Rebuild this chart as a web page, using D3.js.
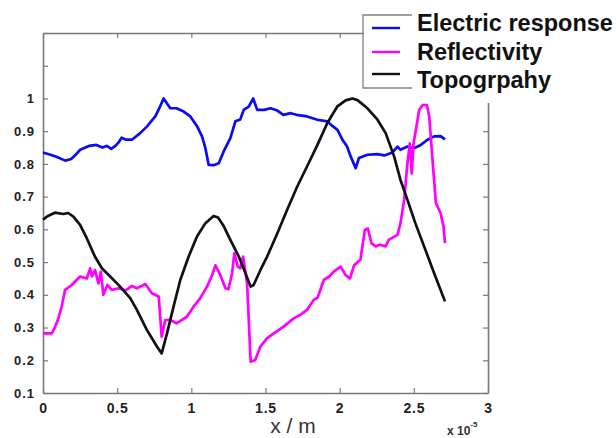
<!DOCTYPE html>
<html>
<head>
<meta charset="utf-8">
<script src="https://cdn.jsdelivr.net/npm/d3@7"></script>
<style>
  html, body { margin: 0; padding: 0; background: #fff; }
  svg { display: block; }
</style>
</head>
<body>
<svg id="chart" width="616" height="438"></svg>
<script>
// Series, x in units of 1e-5 m, normalised amplitude
const electricResponse = [
  [0.00,0.835],[0.05,0.828],[0.09,0.822],[0.15,0.810],[0.19,0.815],[0.22,0.828],[0.25,0.843],
  [0.31,0.855],[0.36,0.858],[0.40,0.850],[0.43,0.855],[0.46,0.846],[0.49,0.856],[0.51,0.866],
  [0.53,0.880],[0.56,0.874],[0.60,0.874],[0.655,0.894],[0.70,0.914],[0.757,0.945],[0.79,0.976],
  [0.813,1.0],[0.858,0.97],[0.90,0.97],[0.948,0.96],[0.993,0.945],[1.04,0.914],[1.072,0.884],
  [1.095,0.848],[1.117,0.797],[1.15,0.796],[1.185,0.802],[1.218,0.838],[1.263,0.879],[1.297,0.93],
  [1.33,0.936],[1.353,0.965],[1.387,0.975],[1.417,1.0],[1.444,0.965],[1.49,0.965],[1.534,0.97],
  [1.58,0.963],[1.62,0.95],[1.67,0.955],[1.71,0.95],[1.78,0.945],[1.85,0.935],[1.917,0.93],
  [1.94,0.92],[1.985,0.904],[2.02,0.873],[2.05,0.853],[2.074,0.823],[2.108,0.787],[2.13,0.818],
  [2.187,0.828],[2.255,0.83],[2.30,0.826],[2.356,0.835],[2.39,0.853],[2.41,0.843],[2.457,0.853],
  [2.50,0.848],[2.547,0.858],[2.59,0.873],[2.637,0.884],[2.68,0.885],[2.71,0.875]
];
const reflectivity = [
  [0.00,0.282],[0.059,0.282],[0.08,0.30],[0.10,0.323],[0.126,0.364],[0.149,0.415],[0.194,0.43],
  [0.25,0.456],[0.295,0.45],[0.318,0.481],[0.33,0.456],[0.35,0.476],[0.374,0.435],[0.39,0.471],
  [0.407,0.40],[0.434,0.43],[0.464,0.415],[0.51,0.42],[0.554,0.413],[0.60,0.427],[0.633,0.42],
  [0.69,0.433],[0.734,0.405],[0.78,0.395],[0.80,0.272],[0.824,0.323],[0.858,0.323],[0.90,0.313],
  [0.97,0.333],[1.016,0.364],[1.06,0.39],[1.106,0.425],[1.14,0.46],[1.162,0.49],[1.196,0.46],
  [1.23,0.42],[1.25,0.417],[1.275,0.466],[1.29,0.527],[1.313,0.486],[1.33,0.481],[1.349,0.517],
  [1.376,0.435],[1.40,0.196],[1.43,0.20],[1.466,0.242],[1.51,0.267],[1.556,0.282],[1.62,0.302],
  [1.69,0.328],[1.736,0.339],[1.78,0.354],[1.826,0.385],[1.85,0.39],[1.894,0.446],[1.93,0.456],
  [1.96,0.471],[2.007,0.486],[2.04,0.46],[2.07,0.45],[2.097,0.49],[2.14,0.507],[2.17,0.598],
  [2.19,0.603],[2.214,0.558],[2.243,0.548],[2.27,0.553],[2.31,0.548],[2.33,0.568],[2.39,0.583],
  [2.41,0.619],[2.435,0.69],[2.457,0.802],[2.473,0.863],[2.486,0.771],[2.498,0.863],[2.51,0.894],
  [2.536,0.965],[2.559,0.98],[2.588,0.98],[2.604,0.945],[2.626,0.812],[2.649,0.68],[2.68,0.65],
  [2.70,0.61],[2.71,0.558]
];
const topography = [
  [0.00,0.63],[0.03,0.64],[0.08,0.651],[0.137,0.647],[0.17,0.65],[0.205,0.639],[0.25,0.614],
  [0.295,0.573],[0.35,0.517],[0.397,0.481],[0.453,0.456],[0.52,0.425],[0.588,0.39],[0.633,0.354],
  [0.70,0.293],[0.768,0.242],[0.80,0.221],[0.836,0.282],[0.88,0.364],[0.926,0.446],[0.982,0.517],
  [1.038,0.578],[1.095,0.619],[1.15,0.641],[1.18,0.636],[1.218,0.61],[1.263,0.568],[1.32,0.517],
  [1.365,0.466],[1.40,0.425],[1.42,0.43],[1.466,0.476],[1.511,0.517],[1.58,0.588],[1.646,0.66],
  [1.714,0.731],[1.78,0.792],[1.85,0.858],[1.917,0.925],[1.985,0.976],[2.04,0.994],[2.086,1.0],
  [2.12,0.995],[2.187,0.97],[2.255,0.935],[2.31,0.894],[2.367,0.823],[2.41,0.751],[2.457,0.69],
  [2.51,0.619],[2.57,0.547],[2.637,0.466],[2.71,0.38]
];

const seriesNames = ["Electric response", "Reflectivity", "Topogrpahy"];
const seriesColors = ["#0a0af5", "#ff00ff", "#111111"];
const xTicks = [0, 0.5, 1, 1.5, 2, 2.5, 3];
const yTicks = [0.1, 0.2, 0.3, 0.4, 0.5, 0.6, 0.7, 0.8, 0.9, 1, 1.1, 1.2];
const yLabelled = [0.1, 0.2, 0.3, 0.4, 0.5, 0.6, 0.7, 0.8, 0.9, 1];
const xLabel = "x / m";

const svg = d3.select("#chart");
const plot = { left: 43, right: 488, top: 33, bottom: 393 };

const x = d3.scaleLinear().domain([0, 3]).range([plot.left, plot.right]);
const y = d3.scaleLinear().domain([0.1, 1.2]).range([plot.bottom, plot.top]);

const axisColor = "#7a7a7a";
const tickFont = "'Liberation Sans', Arial, sans-serif";

// Box axes with inward ticks on all four sides
function styleAxis(g) {
  g.select(".domain").attr("stroke", axisColor).attr("stroke-width", 1.6);
  g.selectAll(".tick line").attr("stroke", axisColor).attr("stroke-width", 1.2);
}
const xBottom = svg.append("g").attr("transform", `translate(0,${plot.bottom})`)
  .call(d3.axisBottom(x).tickValues(xTicks).tickSizeInner(-5).tickSizeOuter(0).tickPadding(9)
    .tickFormat(d3.format("")));
styleAxis(xBottom);
xBottom.selectAll(".tick text")
  .attr("font-family", tickFont).attr("font-weight", "bold").attr("font-size", 14)
  .attr("letter-spacing", 0.8).attr("fill", "#222").attr("dy", "0.75em");

const xTop = svg.append("g").attr("transform", `translate(0,${plot.top})`)
  .call(d3.axisTop(x).tickValues(xTicks).tickSizeInner(-5).tickSizeOuter(0).tickFormat(""));
styleAxis(xTop);

const yLeft = svg.append("g").attr("transform", `translate(${plot.left},0)`)
  .call(d3.axisLeft(y).tickValues(yTicks).tickSizeInner(-5).tickSizeOuter(0).tickPadding(8)
    .tickFormat(d => yLabelled.includes(+d.toFixed(1)) ? d3.format("")(+d.toFixed(1)) : ""));
styleAxis(yLeft);
yLeft.selectAll(".tick text")
  .attr("font-family", tickFont).attr("font-weight", "bold").attr("font-size", 13)
  .attr("letter-spacing", 1).attr("fill", "#222");

const yRight = svg.append("g").attr("transform", `translate(${plot.right},0)`)
  .call(d3.axisRight(y).tickValues(yTicks).tickSizeInner(-5).tickSizeOuter(0).tickFormat(""));
styleAxis(yRight);

// Curves
const line = d3.line().x(d => x(d[0])).y(d => y(d[1]));
[electricResponse, reflectivity, topography].forEach((data, i) => {
  svg.append("path").datum(data)
    .attr("d", line)
    .attr("fill", "none")
    .attr("stroke", seriesColors[i])
    .attr("stroke-width", 2.7)
    .attr("stroke-linejoin", "round");
});

// Axis label and exponent
svg.append("text").attr("x", 293).attr("y", 433).attr("text-anchor", "middle")
  .attr("font-family", tickFont).attr("font-size", 21).attr("fill", "#333")
  .text(xLabel);
const expo = svg.append("text").attr("x", 447).attr("y", 435)
  .attr("font-family", tickFont).attr("font-weight", "bold").attr("font-size", 12).attr("fill", "#333");
expo.append("tspan").text("x 10");
expo.append("tspan").attr("dy", -8).attr("font-size", 8).text("-5");

// Legend
const legend = svg.append("g");
legend.append("rect").attr("x", 364).attr("y", 12).attr("width", 252).attr("height", 76).attr("fill", "#fff");
legend.append("rect").attr("x", 440).attr("y", 88).attr("width", 176).attr("height", 15).attr("fill", "#fff");
legend.append("path")
  .attr("d", "M412,15 H363 V88 H412")
  .attr("fill", "none").attr("stroke", "#808080").attr("stroke-width", 1.3);
const legendLineY = [28, 52, 74];
const legendTextY = [31, 60, 88];
seriesNames.forEach((name, i) => {
  legend.append("line")
    .attr("x1", 372).attr("x2", 400).attr("y1", legendLineY[i]).attr("y2", legendLineY[i])
    .attr("stroke", seriesColors[i]).attr("stroke-width", 2.4);
  legend.append("text").attr("x", 417).attr("y", legendTextY[i])
    .attr("font-family", tickFont).attr("font-weight", "bold").attr("font-size", 23.5)
    .attr("fill", "#111").text(name);
});
</script>
</body>
</html>
